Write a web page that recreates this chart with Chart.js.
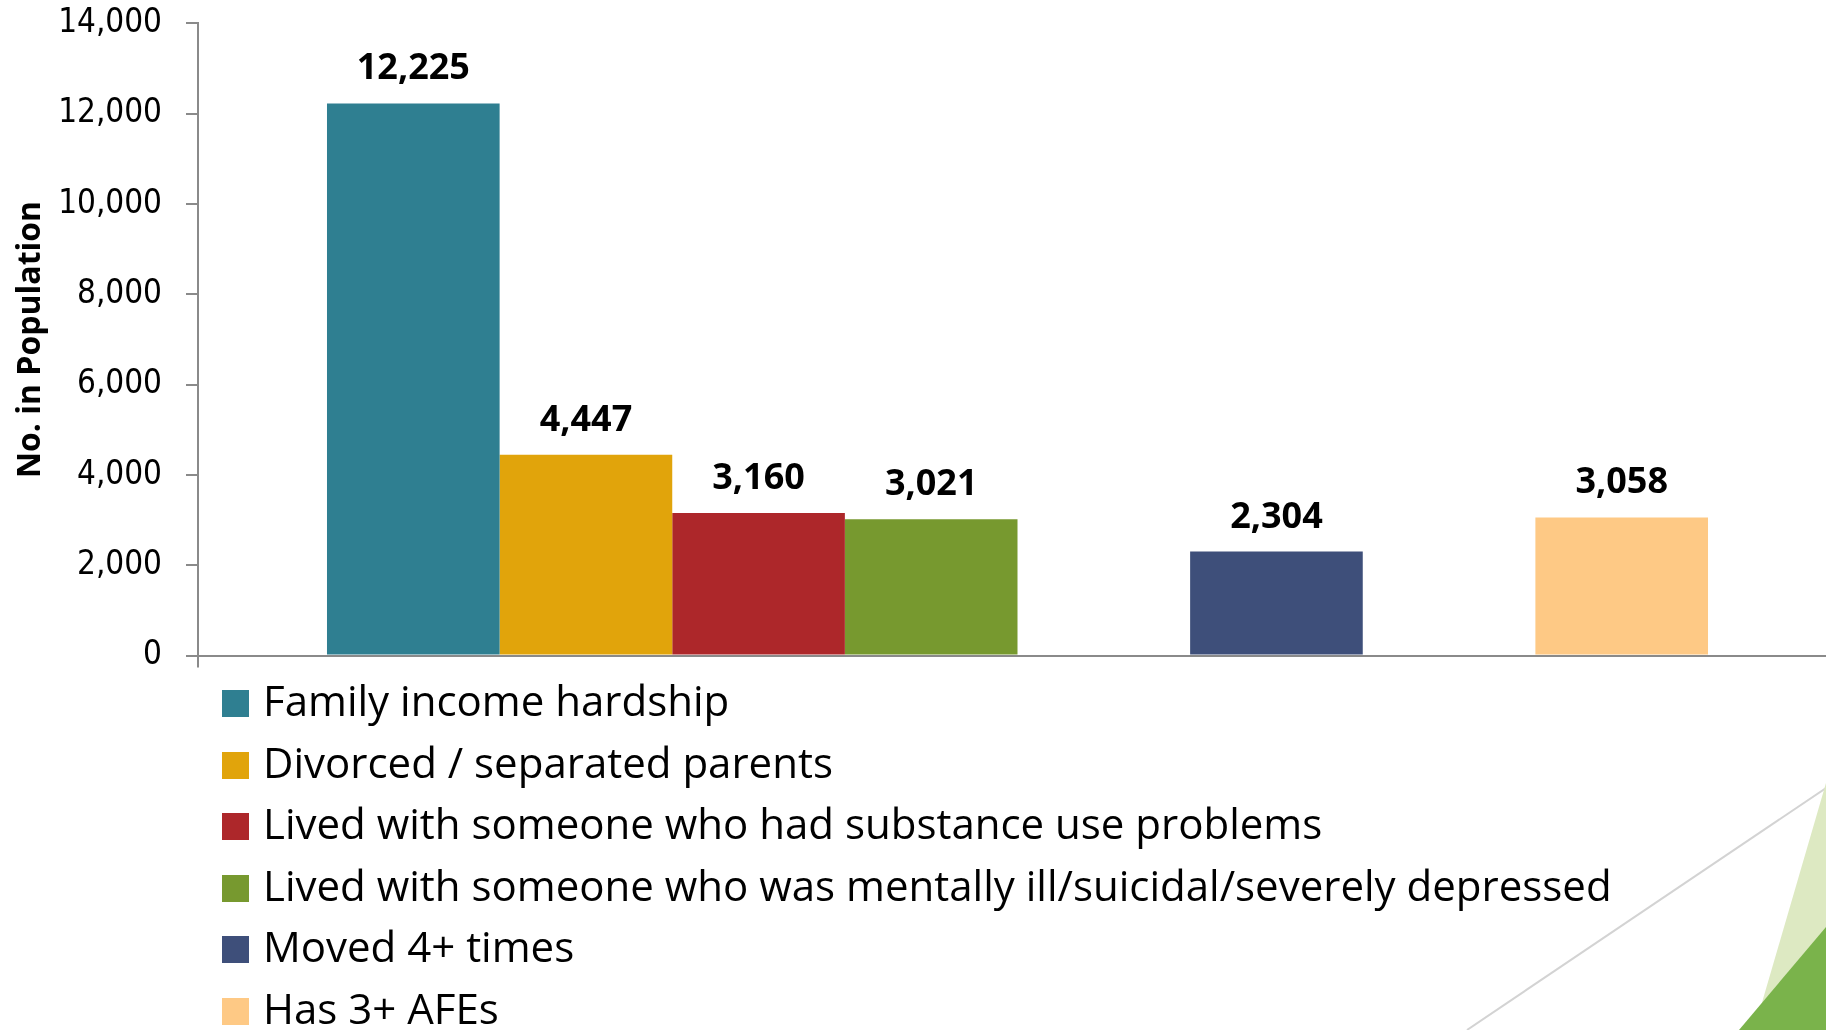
<!DOCTYPE html>
<html>
<head>
<meta charset="utf-8">
<script src="https://cdn.jsdelivr.net/npm/chart.js@4/dist/chart.umd.min.js"></script>
<style>
    html, body { margin: 0; padding: 0; background: #fff; overflow: hidden; width: 1826px; height: 1030px; }
    #fundo { position: absolute; left: 0; top: 0; }
    #grafico { position: absolute; left: 0; top: 0; }
    #legenda { position: absolute; left: 222px; top: 669px; font-family: "Open Sans", sans-serif; font-size: 42px; color: #000; }
    #legenda .item { position: relative; height: 61.6px; line-height: 61.6px; padding-left: 41px; white-space: nowrap; }
    #legenda .caixa { position: absolute; left: 0; top: 21px; width: 27px; height: 27px; }
</style>
</head>
<body>
<svg id="fundo" width="1826" height="1030">
    <line x1="1467" y1="1030" x2="1826" y2="788" stroke="#d3d3d3" stroke-width="2"/>
    <polygon points="1826,783 1754,1030 1826,1030" fill="#dde9c2"/>
    <polygon points="1826,927 1739,1030 1826,1030" fill="#7ab34b"/>
</svg>
<canvas id="grafico" width="1840" height="1030"></canvas>
<div id="legenda"></div>

<script>
// Séries (as vazias só abrem espaço entre as barras)
var series = [
    'Family income hardship',
    'Divorced / separated parents',
    'Lived with someone who had substance use problems',
    'Lived with someone who was mentally ill/suicidal/severely depressed',
    '',
    'Moved 4+ times',
    '',
    'Has 3+ AFEs'
];
var valores = [12225, 4447, 3160, 3021, null, 2304, null, 3058];
var cores = ['#2f7f91', '#e1a40b', '#ad272a', '#77992f', '#ffffff', '#3e4f7a', '#ffffff', '#fec985'];
var ticksY = [0, 2000, 4000, 6000, 8000, 10000, 12000, 14000];
var tituloY = 'No. in Population';

var corEixo = '#8a8a8a';

// Rótulos de valor em cima de cada barra
var rotulosValor = {
    id: 'rotulosValor',
    afterDatasetsDraw: function(chart){
        var ctx = chart.ctx;
        ctx.save();
        ctx.font = 'bold 36px "Open Sans"';
        ctx.fillStyle = '#000';
        ctx.textAlign = 'center';
        ctx.textBaseline = 'alphabetic';
        chart.data.datasets.forEach(function(ds, i){
            var v = ds.data[0];
            if(v == null) return;
            var barra = chart.getDatasetMeta(i).data[0];
            ctx.fillText(v.toLocaleString('en-US'), barra.x, barra.y - 24);
        });
        ctx.restore();
    }
};

// Legenda em html, um item por linha
function montarLegenda(chart){
    var div = document.getElementById("legenda");
    var itens = chart.options.plugins.legend.labels.generateLabels(chart);
    itens.forEach(function(item){
        if(item.text == '') return;
        var linha = document.createElement("div");
        linha.className = "item";
        var caixa = document.createElement("span");
        caixa.className = "caixa";
        caixa.style.background = item.fillStyle;
        linha.appendChild(caixa);
        var texto = document.createElement("span");
        texto.textContent = item.text;
        linha.appendChild(texto);
        div.appendChild(linha);
    });
}

window.onload = function(){
    var datasets = [];
    for(var i = 0; i < series.length; i++){
        datasets.push({
            label: series[i],
            data: [valores[i]],
            backgroundColor: cores[i],
            borderWidth: 0,
            categoryPercentage: 0.8426,
            barPercentage: 1
        });
    }

    var ctx = document.getElementById("grafico");
    var grafico = new Chart(ctx, {
        type: 'bar',
        data: { labels: [''], datasets: datasets },
        plugins: [rotulosValor],
        options: {
            responsive: false,
            animation: false,
            layout: { padding: { left: 0, top: 23.3, right: 3, bottom: 362.4 } },
            plugins: {
                legend: { display: false },
                tooltip: { enabled: false }
            },
            scales: {
                x: {
                    grid: { drawOnChartArea: false, drawTicks: true, tickLength: 12, color: corEixo, lineWidth: 2 },
                    border: { color: corEixo, width: 2 },
                    ticks: { display: false }
                },
                y: {
                    min: 0,
                    max: 14000,
                    afterBuildTicks: function(scale){
                        scale.ticks = ticksY.map(function(v){ return { value: v }; });
                    },
                    afterFit: function(scale){
                        // largura fixa do eixo e sem folga extra em cima/embaixo
                        scale.width = 198;
                        scale.paddingTop = 0;
                        scale.paddingBottom = 0;
                    },
                    grid: { drawOnChartArea: false, drawTicks: true, tickLength: 12, color: corEixo, lineWidth: 2 },
                    border: { color: corEixo, width: 2 },
                    ticks: {
                        padding: 24,
                        color: '#000',
                        font: { family: '"DejaVu Sans Condensed", "Liberation Sans"', size: 33 },
                        callback: function(v){ return v.toLocaleString('en-US'); }
                    },
                    title: {
                        display: true,
                        text: tituloY,
                        color: '#000',
                        padding: { top: 12, bottom: 0 },
                        font: { family: '"Open Sans"', size: 32, weight: 'bold' }
                    }
                }
            }
        }
    });
    montarLegenda(grafico);
};
</script>
</body>
</html>
